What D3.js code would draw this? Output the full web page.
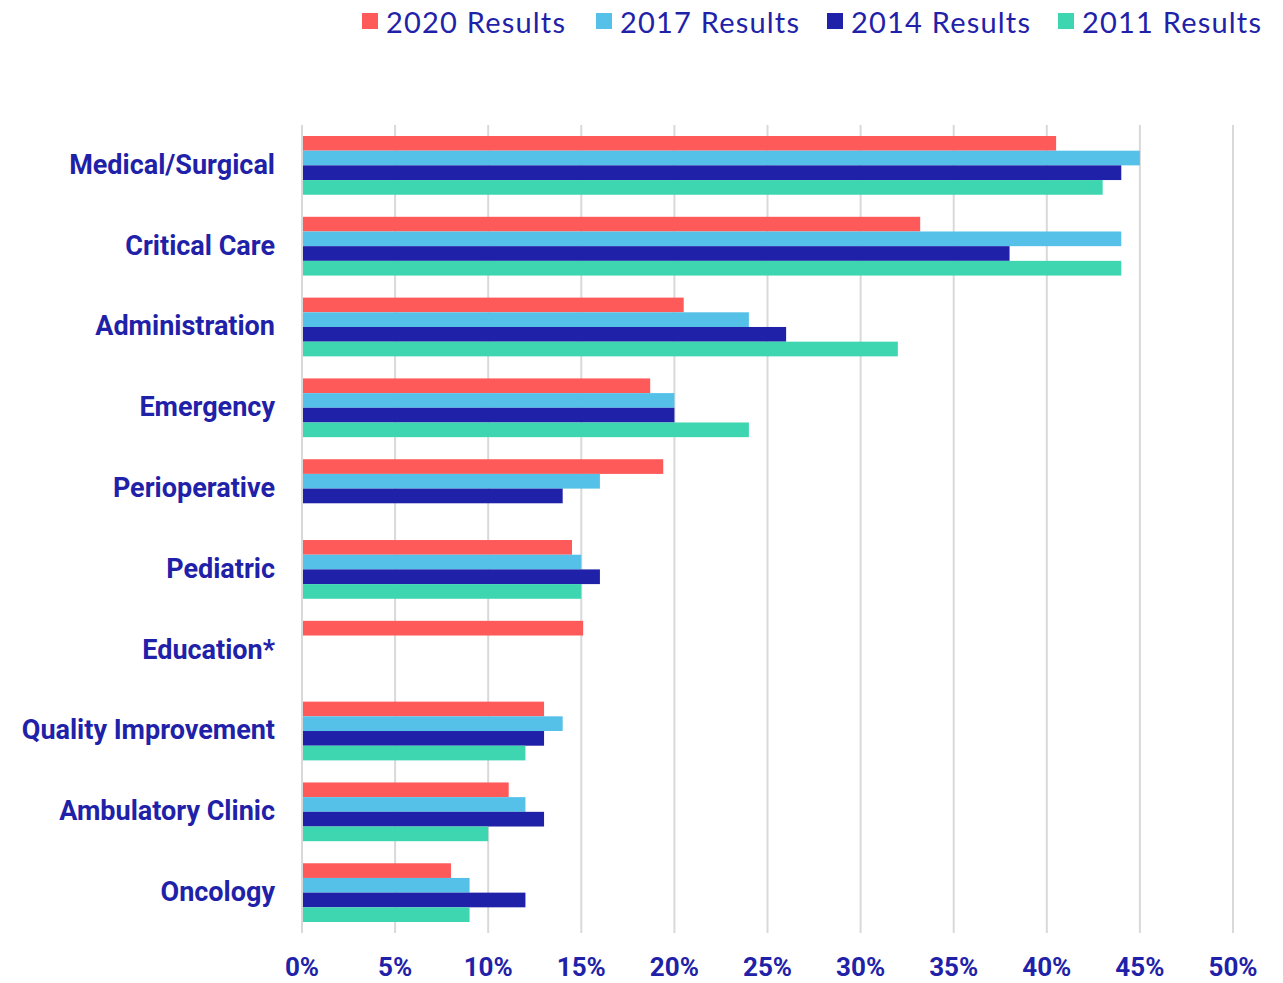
<!DOCTYPE html>
<html>
<head>
<meta charset="utf-8">
<script src="https://cdn.jsdelivr.net/npm/d3@7"></script>
<style>
  body { margin: 0; background: #fff; }
  svg { display: block; }
</style>
</head>
<body>
<div id="chart"></div>
<script>
const categories = ["Medical/Surgical", "Critical Care", "Administration", "Emergency", "Perioperative",
    "Pediatric", "Education*", "Quality Improvement", "Ambulatory Clinic", "Oncology"];
const seriesNames = ["2020 Results", "2017 Results", "2014 Results", "2011 Results"];
const seriesColors = ["#FF5A5A", "#56C1E8", "#1F22A8", "#3DD6B0"];
const values2020 = [40.5, 33.2, 20.5, 18.7, 19.4, 14.5, 15.1, 13, 11.1, 8];
const values2017 = [45, 44, 24, 20, 16, 15, null, 14, 12, 9];
const values2014 = [44, 38, 26, 20, 14, 16, null, 13, 13, 12];
const values2011 = [43, 44, 32, 24, null, 15, null, 12, 10, 9];
const xTicks = [0, 5, 10, 15, 20, 25, 30, 35, 40, 45, 50];

const allValues = [values2020, values2017, values2014, values2011];
const textColor = "#1F22A8";

const width = 1283, height = 983;
const margin = { top: 125, right: 50, bottom: 50, left: 302 };

const svg = d3.select("#chart")
    .append("svg")
    .attr("width", width)
    .attr("height", height);

const x = d3.scaleLinear()
    .domain([0, 50])
    .range([margin.left, width - margin.right]);

const y = d3.scaleBand()
    .domain(categories)
    .range([margin.top, height - margin.bottom])
    .paddingInner(0.273)
    .paddingOuter(0.136);

const ySub = d3.scaleBand()
    .domain(seriesNames)
    .range([0, y.bandwidth()]);

// grid lines
svg.append("g")
    .selectAll("line")
    .data(xTicks)
    .join("line")
    .attr("x1", d => x(d))
    .attr("x2", d => x(d))
    .attr("y1", margin.top)
    .attr("y2", height - margin.bottom)
    .attr("stroke", "#D9D9D9")
    .attr("stroke-width", 2);

// bars
const rows = categories.map((c, i) => ({
    category: c,
    items: seriesNames.map((s, j) => ({ series: s, color: seriesColors[j], value: allValues[j][i] }))
}));

svg.append("g")
    .selectAll("g")
    .data(rows)
    .join("g")
    .attr("transform", d => `translate(0,${y(d.category)})`)
    .selectAll("rect")
    .data(d => d.items.filter(it => it.value != null))
    .join("rect")
    .attr("x", x(0) + 1)
    .attr("y", d => ySub(d.series))
    .attr("width", d => x(d.value) - x(0) - 1)
    .attr("height", ySub.bandwidth())
    .attr("fill", d => d.color);

// category labels
svg.append("g")
    .selectAll("text")
    .data(categories)
    .join("text")
    .attr("x", 275)
    .attr("y", d => y(d) + y.bandwidth() / 2 - 1)
    .attr("dy", "0.35em")
    .attr("text-anchor", "end")
    .attr("font-family", "Roboto, sans-serif")
    .attr("font-weight", 700)
    .attr("font-size", 27)
    .attr("fill", textColor)
    .text(d => d);

// x tick labels
svg.append("g")
    .selectAll("text")
    .data(xTicks)
    .join("text")
    .attr("x", d => x(d))
    .attr("y", 976)
    .attr("text-anchor", "middle")
    .attr("font-family", "Roboto, sans-serif")
    .attr("font-weight", 700)
    .attr("font-size", 26)
    .attr("fill", textColor)
    .text(d => d + "%");

// legend
const legendX = [362, 596, 827, 1058];
const legend = svg.append("g")
    .selectAll("g")
    .data(seriesNames)
    .join("g")
    .attr("transform", (d, i) => `translate(${legendX[i]},0)`);

legend.append("rect")
    .attr("x", 0)
    .attr("y", 13)
    .attr("width", 16)
    .attr("height", 16)
    .attr("fill", (d, i) => seriesColors[i]);

legend.append("text")
    .attr("x", 24)
    .attr("y", 33)
    .attr("font-family", "Lato, sans-serif")
    .attr("font-weight", 400)
    .attr("font-size", 29)
    .attr("letter-spacing", 1.2)
    .attr("fill", textColor)
    .text(d => d);
</script>
</body>
</html>
